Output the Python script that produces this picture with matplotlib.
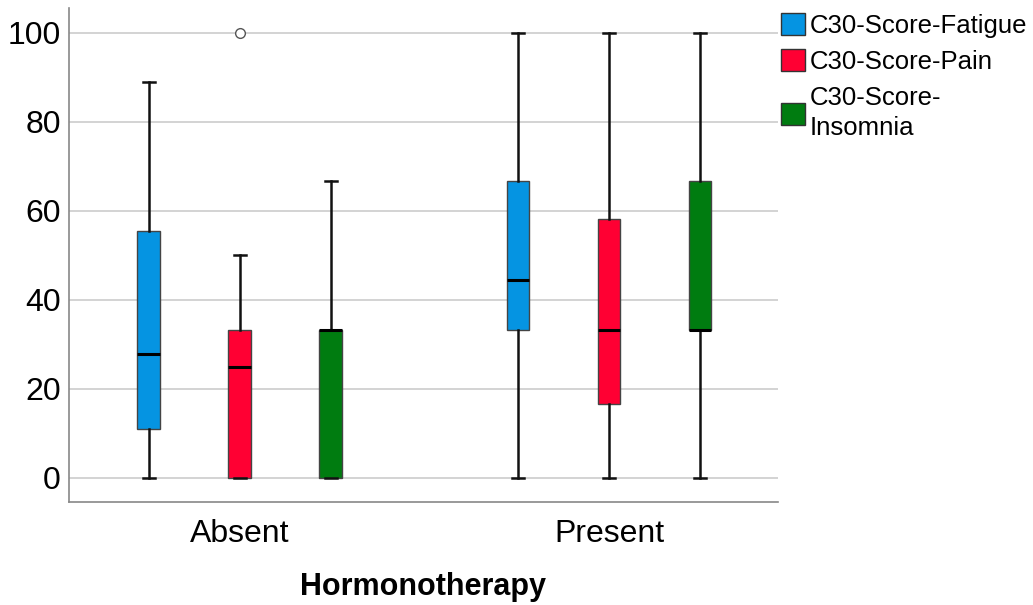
import numpy as np
import matplotlib.pyplot as plt
from matplotlib.patches import Patch

plt.rcParams['font.family'] = ['Liberation Sans', 'DejaVu Sans']

groups = ['Absent', 'Present']
series = ['C30-Score-Fatigue', 'C30-Score-Pain', 'C30-Score-\nInsomnia']
colors = ['#0594E2', '#FF0033', '#007C10']

# five-number summaries per group: [whislo, q1, med, q3, whishi]
fatigue = [[0, 11.1, 27.8, 55.6, 88.9], [0, 33.3, 44.4, 66.7, 100]]
pain = [[0, 0, 25.0, 33.3, 50.0], [0, 16.7, 33.3, 58.3, 100]]
insomnia = [[0, 0, 33.3, 33.3, 66.7], [0, 33.3, 33.3, 66.7, 100]]
outliers = {(0, 1): [100]}  # (group, series) -> values

all_stats = [fatigue, pain, insomnia]

fig = plt.figure(figsize=(10.33, 6.05), dpi=100)
ax = fig.add_axes([69 / 1033, 1 - 502 / 605, (778 - 69) / 1033, (502 - 8) / 605])

offset = 0.2466
width = 0.062
for s, (stats, col) in enumerate(zip(all_stats, colors)):
    for g in range(len(groups)):
        lo, q1, med, q3, hi = stats[g]
        d = dict(whislo=lo, q1=q1, med=med, q3=q3, whishi=hi,
                 fliers=outliers.get((g, s), []))
        ax.bxp([d], positions=[g + (s - 1) * offset], widths=width,
               patch_artist=True, showfliers=True,
               boxprops=dict(facecolor=col, edgecolor='#444444', linewidth=1.0),
               medianprops=dict(color='black', linewidth=2.2),
               whiskerprops=dict(color='#111111', linewidth=1.8),
               capprops=dict(color='#111111', linewidth=1.8),
               capwidths=width / 2,
               flierprops=dict(marker='o', markersize=7, markerfacecolor='white',
                               markeredgecolor='#555555', markeredgewidth=1.0),
               zorder=3)

ax.set_xlim(-0.463, 1.458)
ax.set_ylim(-5.4, 105.6)
ax.set_yticks([0, 20, 40, 60, 80, 100])
ax.set_xticks([0, 1])
ax.set_xticklabels(groups)
ax.tick_params(axis='both', length=0, labelsize=23, colors='black')
ax.tick_params(axis='x', pad=12)
ax.tick_params(axis='y', pad=6)
ax.yaxis.grid(True, color='#CCCCCC', linewidth=1.2, zorder=0)
ax.set_axisbelow(True)
for side in ['top', 'right']:
    ax.spines[side].set_visible(False)
for side in ['left', 'bottom']:
    ax.spines[side].set_color('#888888')
    ax.spines[side].set_linewidth(1.2)

ax.set_xlabel('Hormonotherapy', fontsize=22, fontweight='bold', labelpad=17)

handles = [Patch(facecolor=c, edgecolor='#333333', linewidth=1.0) for c in colors]
leg = fig.legend(handles, series, loc='upper left', bbox_to_anchor=(778 / 1033, 0.983),
                 frameon=False, fontsize=18.5, handlelength=0.95, handleheight=0.95,
                 handletextpad=0.2, labelspacing=0.45, borderaxespad=0.0, borderpad=0.1)
for t in leg.get_texts():
    t.set_linespacing(1.35)

fig.savefig('out.png', dpi=100)
